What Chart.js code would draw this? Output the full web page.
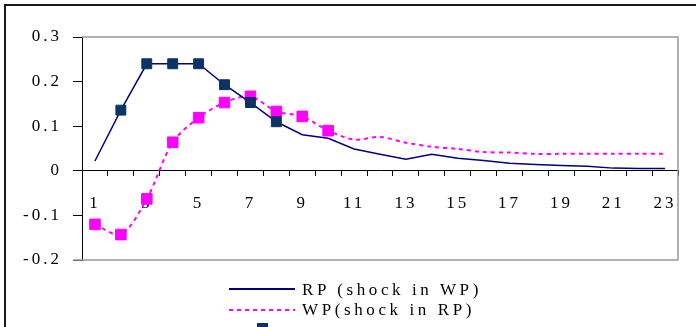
<!DOCTYPE html>
<html><head><meta charset="utf-8">
<script src="https://cdn.jsdelivr.net/npm/chart.js@4/dist/chart.umd.min.js"></script>
<style>
html,body{margin:0;padding:0;background:#fff;overflow:hidden;}
#wrap{position:relative;width:696px;height:327px;overflow:hidden;}
#c{position:absolute;left:0;top:0;}
#frame{position:absolute;left:4px;top:4px;width:800px;height:400px;border-left:2px solid #1a1a1a;border-top:2px solid #1a1a1a;}
.legtxt{position:absolute;font-family:"Liberation Serif","Times New Roman",serif;font-size:17px;letter-spacing:3.6px;color:#000;white-space:nowrap;line-height:17px;}
.legline{position:absolute;}
</style></head>
<body>
<div id="wrap">
<canvas id="c" width="696" height="327"></canvas>
<div id="frame"></div>
<div id="legend"></div>
</div>
<script>
const categories = ['1','2','3','4','5','6','7','8','9','10','11','12','13','14','15','16','17','18','19','20','21','22','23'];
const rpValues = [0.022,0.136,0.240,0.240,0.240,0.193,0.153,0.110,0.081,0.073,0.049,0.037,0.026,0.037,0.028,0.023,0.017,0.014,0.012,0.010,0.006,0.005,0.005];
const wpValues = [-0.120,-0.143,-0.063,0.064,0.119,0.153,0.167,0.133,0.122,0.090,0.070,0.076,0.063,0.054,0.049,0.042,0.041,0.038,0.038,0.038,0.038,0.038,0.038];
const rpMarked = [false,true,true,true,true,true,true,true,false,false,false,false,false,false,false,false,false,false,false,false,false,false,false];
const wpMarked = [true,true,true,true,true,true,true,true,true,true,false,false,false,false,false,false,false,false,false,false,false,false,false];
const yTickValues = [-0.2,-0.1,0,0.1,0.2,0.3];
const yTickLabels = ['-0.2','-0.1','0','0.1','0.2','0.3'];
const seriesNames = ['RP (shock in WP)','WP(shock in RP)'];

const FONT = '"Liberation Serif","Times New Roman",serif';
const NAVY_LINE = '#000080';
const NAVY_MARK = '#0a3466';
const MAGENTA = '#ff00ff';

const spacingPlugin = {
  id: 'spacing',
  beforeDraw(chart) { chart.ctx.letterSpacing = '3px'; },
  beforeDatasetsDraw(chart) {
    const {ctx, chartArea: a} = chart;
    ctx.save();
    ctx.letterSpacing = '0px';
    ctx.strokeStyle = '#999';
    ctx.lineWidth = 1.5;
    ctx.beginPath();
    ctx.moveTo(a.left, a.top); ctx.lineTo(a.right, a.top); ctx.lineTo(a.right, a.bottom); ctx.lineTo(73, a.bottom);
    ctx.stroke();
    ctx.restore();
  }
};

new Chart(document.getElementById('c'), {
  type: 'line',
  data: {
    labels: categories,
    datasets: [
      {
        label: seriesNames[0], data: rpValues,
        borderColor: NAVY_LINE, borderWidth: 1.5, tension: 0,
        pointStyle: 'rect', pointRadius: rpMarked.map(m => m ? 7 : 0),
        pointBackgroundColor: NAVY_MARK, pointBorderColor: NAVY_MARK, pointBorderWidth: 1
      },
      {
        label: seriesNames[1], data: wpValues,
        borderColor: MAGENTA, borderWidth: 2, borderDash: [4, 4], tension: 0.3,
        pointStyle: 'rect', pointRadius: wpMarked.map(m => m ? 7.5 : 0),
        pointBackgroundColor: MAGENTA, pointBorderColor: MAGENTA, pointBorderWidth: 1
      }
    ]
  },
  options: {
    responsive: false, animation: false, devicePixelRatio: 1,
    layout: { padding: { top: 37, right: 18, bottom: 67, left: 0 } },
    plugins: { legend: { display: false }, tooltip: { enabled: false } },
    scales: {
      y: {
        min: -0.2, max: 0.3,
        afterFit(s) { s.width = 82; },
        border: { color: '#000', width: 1 },
        grid: { drawOnChartArea: false, drawTicks: true, tickLength: 9, color: '#000' },
        ticks: {
          stepSize: 0.1, padding: 11, color: '#000', font: { family: FONT, size: 17 },
          callback(v) { const i = yTickValues.findIndex(t => Math.abs(t - v) < 1e-9); return i >= 0 ? yTickLabels[i] : ''; }
        }
      },
      x: {
        type: 'category', position: { y: 0 }, offset: true,
        border: { color: '#000', width: 1 },
        grid: { offset: true, drawOnChartArea: false, drawTicks: true, tickLength: 5, color: '#000' },
        ticks: {
          autoSkip: false, maxRotation: 0, padding: 18, color: '#000', font: { family: FONT, size: 17 },
          callback(v, i) { return i % 2 === 0 ? categories[i] : ''; }
        }
      }
    }
  },
  plugins: [spacingPlugin]
});

const leg = document.getElementById('legend');
function add(html){ leg.insertAdjacentHTML('beforeend', html); }
add('<div class="legline" style="left:229px;top:288px;width:66px;height:1.5px;background:' + NAVY_LINE + '"></div>');
add('<div class="legtxt" style="left:302px;top:281px">' + seriesNames[0] + '</div>');
add('<div class="legline" style="left:229px;top:309px;width:66px;height:2px;background:repeating-linear-gradient(90deg,' + MAGENTA + ' 0 4px,transparent 4px 8px)"></div>');
add('<div class="legtxt" style="left:302px;top:301px">' + seriesNames[1] + '</div>');
add('<div class="legline" style="left:257px;top:323px;width:11px;height:11px;background:' + NAVY_MARK + '"></div>');
</script>
</body></html>
